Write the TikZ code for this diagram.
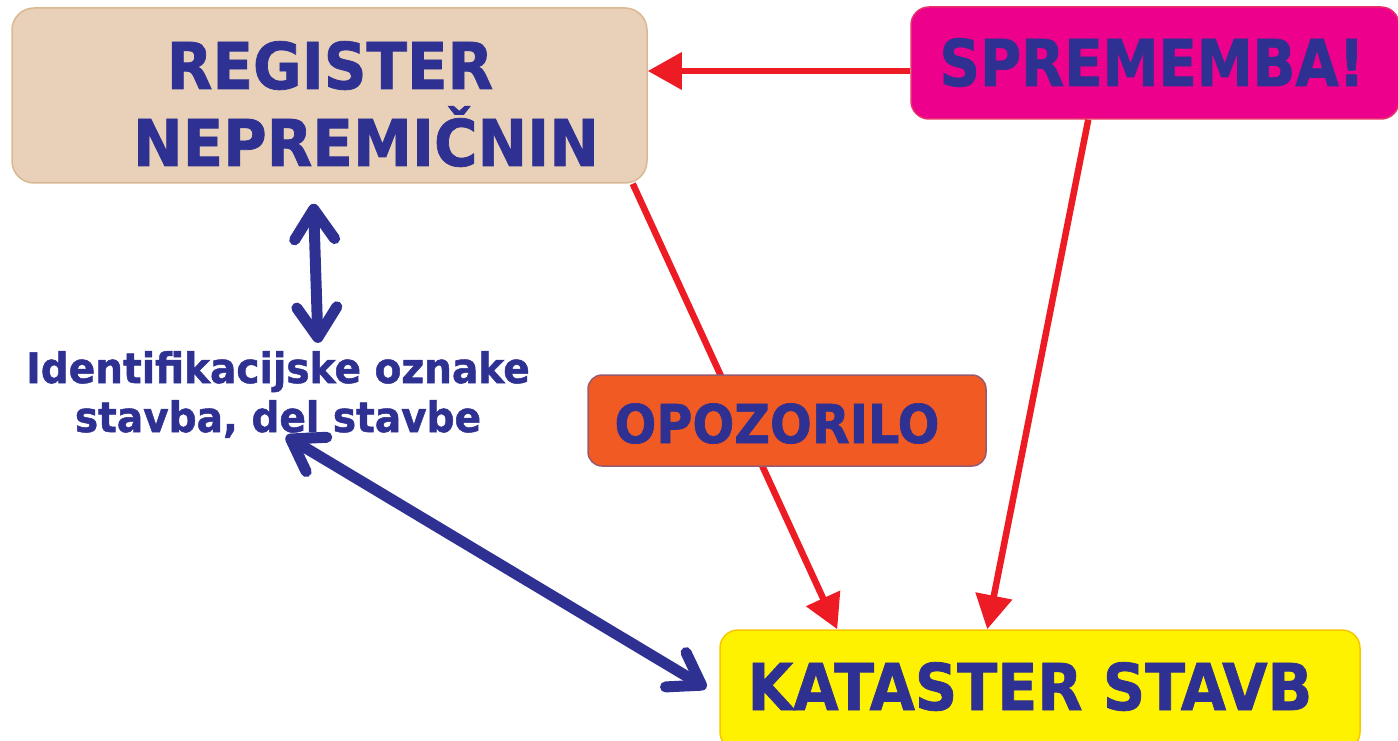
\documentclass[tikz,border=0pt]{standalone}
\usepackage{fontspec}
\usepackage{graphicx}
\usetikzlibrary{arrows.meta}
\newfontfamily\dvs[FakeBold=1.2]{DejaVu Sans}
\definecolor{txtblue}{HTML}{2E3192}
\definecolor{tanfill}{HTML}{E8D1B8}
\definecolor{tanline}{HTML}{D9B894}
\definecolor{magfill}{HTML}{EC008C}
\definecolor{magline}{HTML}{E8316A}
\definecolor{orfill}{HTML}{F15A22}
\definecolor{orline}{HTML}{9A5A6E}
\definecolor{yelfill}{HTML}{FFF200}
\definecolor{yelline}{HTML}{F7C800}
\definecolor{redarr}{HTML}{ED1C24}
\tikzset{
  box/.style={rounded corners=22pt, line width=1.5pt, inner sep=0pt},
  bigtext/.style={font=\dvs\bfseries\fontsize{64.5}{70}\selectfont, text=txtblue, inner sep=0pt, anchor=base},
  midtext/.style={font=\dvs\bfseries\fontsize{53.5}{60}\selectfont, text=txtblue, inner sep=0pt, anchor=base},
  lbltext/.style={font=\dvs\bfseries\fontsize{42}{49}\selectfont, text=txtblue, inner sep=0pt, anchor=base},
  redarrow/.style={draw=redarr, line width=6.5pt, -{Triangle[length=34pt,width=36pt]}},
  bluearrow/.style={draw=txtblue, line width=11pt, line cap=round,
    {Straight Barb[length=30pt,width=40pt,round]}-{Straight Barb[length=30pt,width=40pt,round]}}
}
\begin{document}
\begin{tikzpicture}[x=1pt,y=-1pt]
\useasboundingbox (0,0) rectangle (1398,741);
\clip (0,0) rectangle (1398,741);

% boxes
\node[box, draw=tanline, fill=tanfill, minimum width=635pt, minimum height=175pt] (reg) at (329.5,95.5) {};
\node[box, draw=magline, fill=magfill, minimum width=488pt, minimum height=112pt, rounded corners=18pt] (spr) at (1155,63) {};
\node[box, draw=yelline, fill=yelfill, minimum width=640pt, minimum height=120pt, rounded corners=18pt] (kat) at (1040,690) {};

% texts
\node[bigtext] (regt1) at (330,89) {\scalebox{0.92}[1]{REGISTER}};
\node[bigtext] (regt2) at (366,166) {\scalebox{0.92}[1]{NEPREMIČNIN}};
\node[bigtext] (sprt) at (1152,86) {\scalebox{0.87}[1]{SPREMEMBA!}};
\node[bigtext] (katt) at (1030,710) {\scalebox{0.91}[1]{KATASTER STAVB}};
\node[lbltext] (lbl1) at (278,383) {\scalebox{0.93}[1]{Identifikacijske oznake}};
\node[lbltext] (lbl2) at (278,432) {\scalebox{0.93}[1]{stavba, del stavbe}};

% red connectors
\draw[redarrow] ([yshift=-8pt]spr.west) -- ([yshift=24.5pt]reg.east);
\draw[redarrow] ([xshift=178pt]spr.south west) -- ([xshift=268pt]kat.north west);
\draw[redarrow] ([xshift=-15pt]reg.south east) -- ([xshift=118pt]kat.north west);

% warning box on top of the red line
\node[box, draw=orline, fill=orfill, minimum width=398pt, minimum height=91pt, rounded corners=14pt] (opo) at (787,420.5) {};
\node[midtext] (opot) at (777,443) {\scalebox{0.92}[1]{OPOZORILO}};

% blue connectors
\draw[bluearrow] ([xshift=-16pt,yshift=-20pt]reg.south) -- ([xshift=40pt,yshift=8pt]lbl1.north);
\draw[bluearrow] ([xshift=8pt,yshift=2pt]lbl2.south) -- ([xshift=-13pt,yshift=2pt]kat.west);
\end{tikzpicture}
\end{document}
